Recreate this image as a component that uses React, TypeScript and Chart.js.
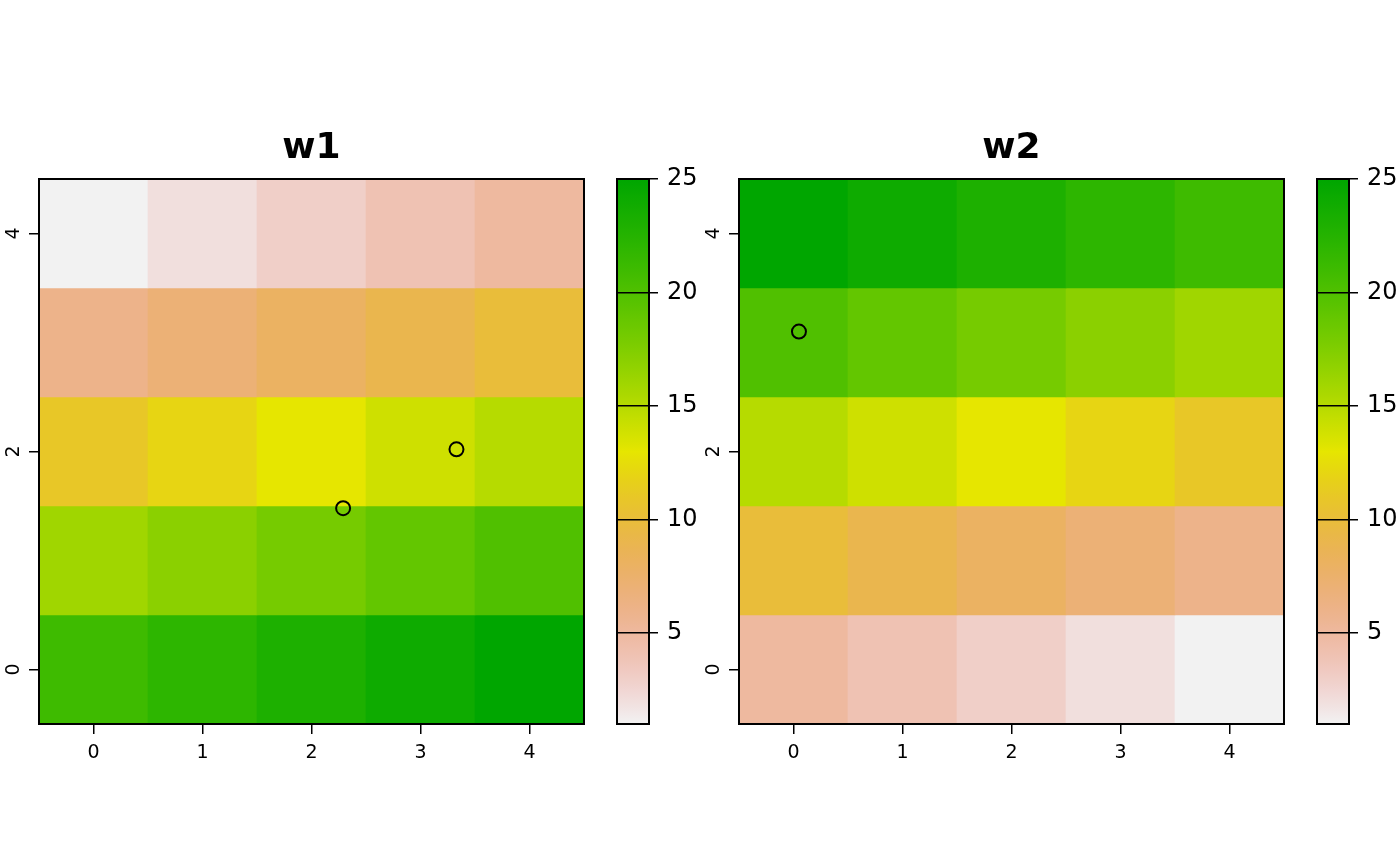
import React, { useEffect, useRef } from "react";
import { Chart, registerables } from "chart.js";

Chart.register(...registerables);

// ---------- data ----------
const xCells = [0, 1, 2, 3, 4];
const yCells = [4, 3, 2, 1, 0]; // rows from top to bottom
const w1Values = [
  [1, 2, 3, 4, 5],
  [6, 7, 8, 9, 10],
  [11, 12, 13, 14, 15],
  [16, 17, 18, 19, 20],
  [21, 22, 23, 24, 25],
];
const w2Values = [
  [25, 24, 23, 22, 21],
  [20, 19, 18, 17, 16],
  [15, 14, 13, 12, 11],
  [10, 9, 8, 7, 6],
  [5, 4, 3, 2, 1],
];
const xTickValues = [0, 1, 2, 3, 4];
const yTickValues = [0, 2, 4];
const legendTickValues = [5, 10, 15, 20, 25];
const valueMin = 1;
const valueMax = 25;
const w1PointX = [2.29, 3.33];
const w1PointY = [1.48, 2.02];
const w2PointX = [0.05];
const w2PointY = [3.1];

const FONT = "DejaVu Sans";

// ---------- colours: rev(terrain.colors) ----------
function hsvToRgb(h: number, s: number, v: number): string {
  const i = Math.floor(h * 6);
  const f = h * 6 - i;
  const p = v * (1 - s);
  const q = v * (1 - f * s);
  const t = v * (1 - (1 - f) * s);
  let r = 0, g = 0, b = 0;
  switch (((i % 6) + 6) % 6) {
    case 0: r = v; g = t; b = p; break;
    case 1: r = q; g = v; b = p; break;
    case 2: r = p; g = v; b = t; break;
    case 3: r = p; g = q; b = v; break;
    case 4: r = t; g = p; b = v; break;
    default: r = v; g = p; b = q; break;
  }
  return `rgb(${Math.round(r * 255)},${Math.round(g * 255)},${Math.round(b * 255)})`;
}

function terrainRev(v: number): string {
  const u = (valueMax - v) / (valueMax - valueMin);
  let h: number, s: number, val: number;
  if (u <= 0.5) {
    const t = u / 0.5;
    h = 1 / 3 - t / 6;
    s = 1;
    val = 0.65 + 0.25 * t;
  } else {
    const t = (u - 0.5) / 0.5;
    h = 1 / 6 - t / 6;
    s = 1 - t;
    val = 0.9 + 0.05 * t;
  }
  return hsvToRgb(h, s, val);
}

// ---------- plugins ----------
const framePlugin = {
  id: "frame",
  afterDatasetsDraw(chart: any) {
    const { ctx, chartArea: a } = chart;
    ctx.save();
    ctx.strokeStyle = "#000";
    ctx.lineWidth = 2;
    ctx.strokeRect(a.left, a.top, a.right - a.left, a.bottom - a.top);
    ctx.restore();
  },
};

const panelTitlePlugin = {
  id: "panelTitle",
  afterDraw(chart: any, _args: any, opts: any) {
    const { ctx, chartArea: a } = chart;
    ctx.save();
    ctx.fillStyle = "#000";
    ctx.font = `bold 36px "${FONT}"`;
    ctx.textAlign = "center";
    ctx.textBaseline = "alphabetic";
    ctx.fillText(opts.text, (a.left + a.right) / 2, a.top - 21);
    ctx.restore();
  },
};

// ---------- components ----------
const PAD_TOP = 179;
const PLOT_BOTTOM = 724;
const H = 866;

function Heatmap(props: { values: number[][]; px: number[]; py: number[]; title: string; left: number }) {
  const ref = useRef<HTMLCanvasElement>(null);
  useEffect(() => {
    const datasets: any[] = yCells.map((yv, r) => ({
      type: "bar",
      data: xCells.map((xv) => ({ x: xv, y: [yv - 0.5, yv + 0.5] })),
      backgroundColor: props.values[r].map(terrainRev),
      borderWidth: 0,
      grouped: false,
      barPercentage: 1,
      categoryPercentage: 1,
      order: 2,
    }));
    datasets.push({
      type: "scatter",
      data: props.px.map((x, i) => ({ x, y: props.py[i] })),
      pointRadius: 7,
      pointBorderWidth: 2,
      pointBorderColor: "#000",
      pointBackgroundColor: "rgba(0,0,0,0)",
      order: 0,
    });
    const chart = new Chart(ref.current!, {
      type: "bar",
      data: { datasets },
      plugins: [framePlugin, panelTitlePlugin],
      options: {
        responsive: false,
        animation: false,
        events: [],
        layout: { padding: { top: PAD_TOP, right: 16, bottom: H - PLOT_BOTTOM - 60, left: 0 } },
        plugins: {
          legend: { display: false },
          tooltip: { enabled: false },
          title: { display: false },
          panelTitle: { text: props.title },
        } as any,
        scales: {
          x: {
            type: "linear",
            min: -0.5,
            max: 4.5,
            offset: false,
            afterBuildTicks: (s: any) => {
              s.ticks = xTickValues.map((v) => ({ value: v }));
            },
            afterFit: (s: any) => {
              s.height = 60;
            },
            grid: { offset: false, drawOnChartArea: false, drawTicks: true, tickLength: 10, color: "#000", lineWidth: 1.5 },
            border: { display: false },
            ticks: { color: "#000", font: { family: FONT, size: 19 }, padding: 8, maxRotation: 0, minRotation: 0 },
          },
          y: {
            type: "linear",
            min: -0.5,
            max: 4.5,
            beginAtZero: false,
            afterBuildTicks: (s: any) => {
              s.ticks = yTickValues.map((v) => ({ value: v }));
            },
            afterFit: (s: any) => {
              s.width = 39;
            },
            grid: { drawOnChartArea: false, drawTicks: true, tickLength: 10, color: "#000", lineWidth: 1.5 },
            border: { display: false },
            ticks: {
              color: "#000",
              font: { family: FONT, size: 19 },
              minRotation: 90,
              maxRotation: 90,
              crossAlign: "center",
              padding: 9,
            },
          },
        },
      } as any,
    });
    return () => chart.destroy();
  }, []);
  return (
    <canvas
      ref={ref}
      width={600}
      height={H}
      style={{ position: "absolute", left: props.left, top: 0, width: 600, height: H }}
    />
  );
}

function ColorLegend(props: { left: number }) {
  const ref = useRef<HTMLCanvasElement>(null);
  useEffect(() => {
    const gradientFill = (c: any) => {
      const ch = c.chart;
      if (!ch.chartArea) return "rgba(0,0,0,0)";
      const ys = ch.scales.y;
      const y0 = ys.getPixelForValue(valueMin);
      const y1 = ys.getPixelForValue(valueMax);
      const g = ch.ctx.createLinearGradient(0, y0, 0, y1);
      const n = 96;
      for (let i = 0; i <= n; i++) {
        const v = valueMin + ((valueMax - valueMin) * i) / n;
        g.addColorStop(i / n, terrainRev(v));
      }
      return g;
    };
    const chart = new Chart(ref.current!, {
      type: "bar",
      data: {
        labels: ["value"],
        datasets: [
          {
            data: [[valueMin, valueMax]],
            backgroundColor: gradientFill,
            borderWidth: 0,
            barPercentage: 1,
            categoryPercentage: 1,
          },
        ],
      },
      plugins: [framePlugin],
      options: {
        responsive: false,
        animation: false,
        events: [],
        layout: { padding: { top: PAD_TOP, right: 0, bottom: H - PLOT_BOTTOM, left: 17 } },
        plugins: { legend: { display: false }, tooltip: { enabled: false } },
        scales: {
          x: { display: false },
          y: {
            position: "right",
            min: valueMin,
            max: valueMax,
            afterBuildTicks: (s: any) => {
              s.ticks = legendTickValues.map((v) => ({ value: v }));
            },
            afterFit: (s: any) => {
              s.width = 51;
            },
            grid: { z: 1, drawOnChartArea: true, drawTicks: true, tickLength: 9, color: "#000", lineWidth: 1.5 },
            border: { display: false },
            ticks: { z: 1, color: "#000", font: { family: FONT, size: 24 }, padding: 9 },
          },
        },
      } as any,
    });
    return () => chart.destroy();
  }, []);
  return (
    <canvas
      ref={ref}
      width={100}
      height={H}
      style={{ position: "absolute", left: props.left, top: 0, width: 100, height: H }}
    />
  );
}

export default function App() {
  return (
    <div style={{ position: "fixed", left: 0, top: 0, width: 1400, height: H, background: "#fff" }}>
      <Heatmap values={w1Values} px={w1PointX} py={w1PointY} title="w1" left={0} />
      <ColorLegend left={600} />
      <Heatmap values={w2Values} px={w2PointX} py={w2PointY} title="w2" left={700} />
      <ColorLegend left={1300} />
    </div>
  );
}
